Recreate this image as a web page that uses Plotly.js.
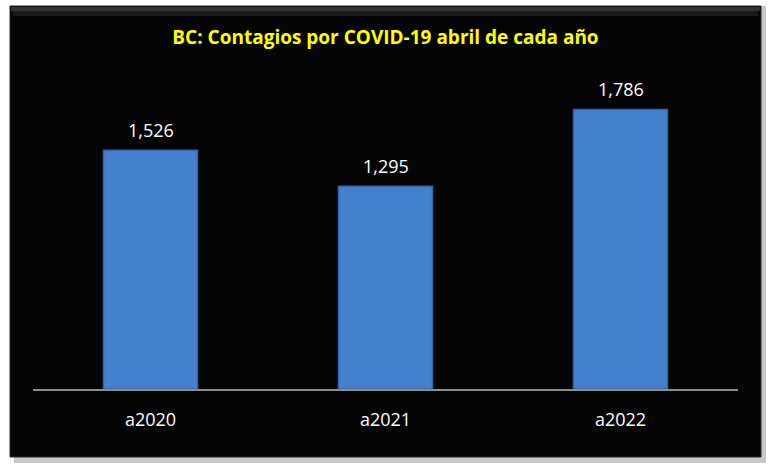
<!DOCTYPE html>
<html>
<head>
<meta charset="utf-8">
<script src="https://cdn.plot.ly/plotly-3.0.1.min.js"></script>
<style>html,body{margin:0;padding:0;background:#fff;}#chart{width:771px;height:470px;}</style>
</head>
<body>
<div id="chart"></div>
<script>
const categories = ["a2020", "a2021", "a2022"];
const contagios = [1526, 1295, 1786];
const titleText = "BC: Contagios por COVID-19 abril de cada año";

const trace = {
  type: "bar",
  x: categories,
  y: contagios,
  marker: {color: "#4480CB", line: {color: "#3565A8", width: 1.5}},
  hoverinfo: "none"
};

const W = 705, H = 313;
function px(x){ return (x - 33) / W; }
function py(y){ return (389 - y) / H; }

const labelAnnotations = categories.map((c, i) => ({
  x: c, y: contagios[i], xref: "x", yref: "y",
  text: contagios[i].toLocaleString("en-US"),
  showarrow: false, yanchor: "middle", yshift: 20,
  font: {family: "Open Sans, sans-serif", size: 18, color: "#ffffff"}
}));

const layout = {
  width: 771, height: 470,
  margin: {l: 33, r: 33, t: 76, b: 81},
  paper_bgcolor: "#ffffff",
  plot_bgcolor: "rgba(0,0,0,0)",
  bargap: 0.6,
  showlegend: false,
  title: {
    text: "<b>" + titleText + "</b>",
    font: {family: "Open Sans, sans-serif", size: 19, color: "#FFFF00"},
    x: 0.5, xanchor: "center", y: 1 - 37/470, yanchor: "middle"
  },
  xaxis: {
    showline: true, linecolor: "#8c8c8c", linewidth: 1.5,
    showgrid: false, zeroline: false, ticks: "",
    tickfont: {family: "Open Sans, sans-serif", size: 18, color: "#ffffff"},
    ticklabelstandoff: 14
  },
  yaxis: {
    range: [0, 2000], visible: false, showgrid: false, zeroline: false
  },
  annotations: labelAnnotations,
  shapes: [
    {type: "rect", xref: "paper", yref: "paper", layer: "below",
     x0: px(14), x1: px(766), y0: py(6), y1: py(463),
     fillcolor: "#c8c8c8", line: {width: 0}},
    {type: "rect", xref: "paper", yref: "paper", layer: "below",
     x0: px(10), x1: px(761), y0: py(6), y1: py(457),
     fillcolor: "#050505", line: {color: "#2a2a2a", width: 1}},
    {type: "rect", xref: "paper", yref: "paper", layer: "below",
     x0: px(11), x1: px(760), y0: py(7), y1: py(11),
     fillcolor: "#333333", line: {width: 0}},
    {type: "rect", xref: "paper", yref: "paper", layer: "below",
     x0: px(13), x1: px(758), y0: py(11), y1: py(16),
     fillcolor: "#1a1a1a", line: {width: 0}}
  ]
};

Plotly.newPlot("chart", [trace], layout, {displayModeBar: false, staticPlot: true});
</script>
</body>
</html>
